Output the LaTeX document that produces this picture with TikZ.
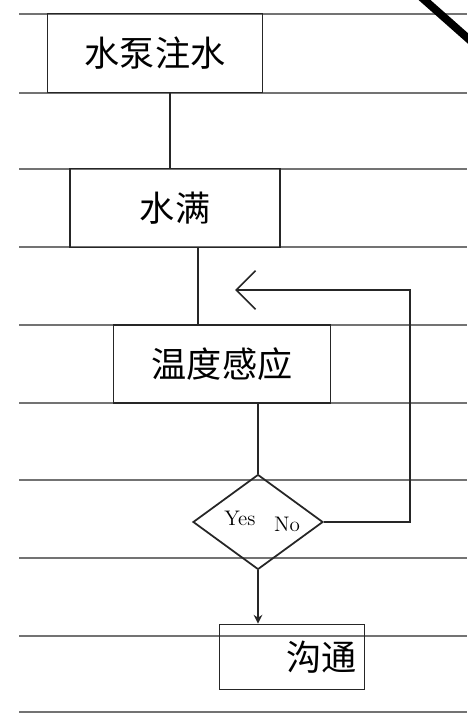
\documentclass[tikz,border=0pt]{standalone}
\usepackage{fontspec}
\usepackage{tikz}
\usetikzlibrary{shapes.geometric,arrows.meta}
\newfontfamily\cjk{Noto Sans CJK SC}

\tikzset{
  pen/.style={draw=black!85,line width=1pt},
  stepbox/.style={pen,rectangle,inner sep=0pt,font=\cjk\fontsize{20}{24}\selectfont},
  decision/.style={pen,diamond,inner sep=0pt,minimum width=2.6cm,minimum height=1.9cm},
  lbl/.style={font=\fontsize{12}{14}\selectfont},
  ruled/.style={draw=black!55,line width=0.6pt},
}

\begin{document}
\begin{tikzpicture}[x=0.02cm,y=-0.02cm]
            \useasboundingbox (0,0) rectangle (467,716);
            % lines of the paper
            \foreach \yy in {14,93,169,247,325,403,480,558,636,712}
                \draw[ruled] (19,\yy) -- (467,\yy);
            \draw[line width=4.5pt] (420,-4) -- (472,42);

            \node[stepbox,minimum width=4.3cm,minimum height=1.58cm] (pump) at (155,53) {水泵注水};
            \node[stepbox,minimum width=4.2cm,minimum height=1.58cm] (full) at (175,208) {水满};
            \node[stepbox,minimum width=4.34cm,minimum height=1.56cm] (sense) at (222,364) {温度感应};
            \node[decision] (check) at (258,522) {};
            \node[lbl] (yes) at (240,518) {Yes};
            \node[lbl] (no) at (287,524) {No};
            \node[stepbox,minimum width=2.9cm,minimum height=1.3cm,text width=2.6cm,align=right] (done) at (292,657) {沟通};

            \coordinate (drop) at (170,130);
            \coordinate (join) at (198,300);
            \coordinate (loop) at (410,290);
            \coordinate (back) at (235,290);

            \draw[pen] (pump.south -| drop) -- (full.north -| drop);
            \draw[pen] (full.south -| join) -- (sense.north -| join);
            \draw[pen] (sense.south -| check.north) -- (check.north);
            \draw[pen,-{Stealth[length=5pt,width=5pt]}] (check.south) -- (check.south |- done.north);
            \draw[pen,-{Straight Barb[length=11pt,width=22pt]}] (check.east) -| (loop) -- (back);
        \end{tikzpicture}
\end{document}
